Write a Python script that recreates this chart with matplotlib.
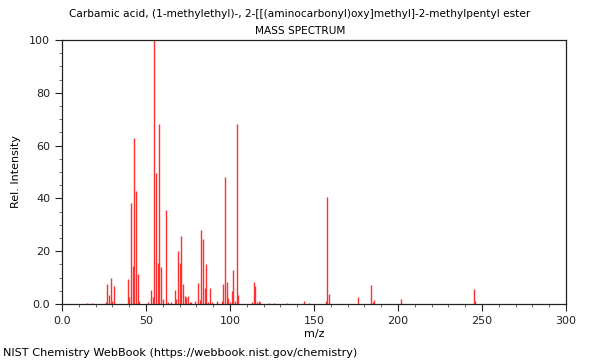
import matplotlib
matplotlib.use("Agg")
import matplotlib.pyplot as plt
from matplotlib.ticker import MultipleLocator, FixedFormatter, FixedLocator

# peaks
mz = [15, 18, 26, 27, 28, 29, 30, 31, 39, 40, 41, 42, 43, 44, 45, 46,
      51, 53, 54, 55, 56, 57, 58, 59, 60, 62, 63, 65, 67, 68, 69, 70,
      71, 72, 73, 74, 75, 76, 77, 79, 81, 82, 83, 84, 85, 86, 87, 88,
      89, 92, 95, 96, 97, 98, 99, 100, 101, 102, 103, 104, 105, 113,
      114, 115, 116, 117, 118, 123, 126, 134, 144, 147, 157, 158, 159,
      176, 184, 185, 186, 202, 245, 246]
intensity = [0.5, 0.5, 0.7, 7.6, 3.4, 9.7, 1.3, 6.8, 9.3, 2.8, 38.1, 14.4,
             62.7, 42.8, 11.4, 1.0, 0.8, 5.3, 2.8, 100.0, 49.5, 15.4, 68.0,
             13.9, 2.0, 35.6, 0.8, 0.8, 5.3, 2.0, 20.2, 15.6, 25.8, 7.6,
             3.1, 2.7, 3.1, 0.8, 0.8, 1.2, 7.8, 1.5, 28.0, 24.6, 5.9, 15.2,
             0.8, 6.2, 0.8, 1.0, 1.3, 7.6, 48.2, 8.5, 2.2, 0.9, 5.0, 12.9,
             1.0, 68.2, 3.4, 0.8, 8.5, 6.8, 0.8, 1.0, 0.6, 0.5, 0.5, 0.5,
             1.3, 0.5, 1.3, 40.4, 3.7, 2.5, 7.2, 0.8, 1.7, 1.8, 5.6, 1.0]

title = "Carbamic acid, (1-methylethyl)-, 2-[[(aminocarbonyl)oxy]methyl]-2-methylpentyl ester"

fig = plt.figure(figsize=(6, 3.6), dpi=100)
ax = fig.add_axes([62/600, 1-304/360, 504/600, 264/360])

ax.vlines(mz, 0, intensity, colors="#ff3030", linewidth=1.0)

ax.set_xlim(0, 300)
ax.set_ylim(0, 100)
ax.xaxis.set_major_locator(FixedLocator([0, 50, 100, 150, 200, 250, 300]))
ax.xaxis.set_major_formatter(FixedFormatter(["0.0", "50", "100", "150", "200", "250", "300"]))
ax.xaxis.set_minor_locator(MultipleLocator(10))
ax.yaxis.set_major_locator(FixedLocator([0, 20, 40, 60, 80, 100]))
ax.yaxis.set_major_formatter(FixedFormatter(["0.0", "20", "40", "60", "80", "100"]))
ax.yaxis.set_minor_locator(MultipleLocator(5))
ax.tick_params(which="major", direction="out", length=5, width=0.8, labelsize=8, colors="#222222")
ax.tick_params(which="minor", direction="out", length=2.5, width=0.6, colors="#555555")
for s in ax.spines.values():
    s.set_color("#222222")
    s.set_linewidth(0.9)

ax.set_xlabel("m/z", fontsize=8, labelpad=2)
ax.set_ylabel("Rel. Intensity", fontsize=8, labelpad=6)

fig.text(0.5, 1-14/360, title, ha="center", va="center", fontsize=7.6)
fig.text(0.5, 1-31/360, "MASS SPECTRUM", ha="center", va="center", fontsize=7.6)
fig.text(3/600, 1-353/360, "NIST Chemistry WebBook (https://webbook.nist.gov/chemistry)",
         ha="left", va="center", fontsize=8.1)

fig.savefig("out.png", dpi=100)
